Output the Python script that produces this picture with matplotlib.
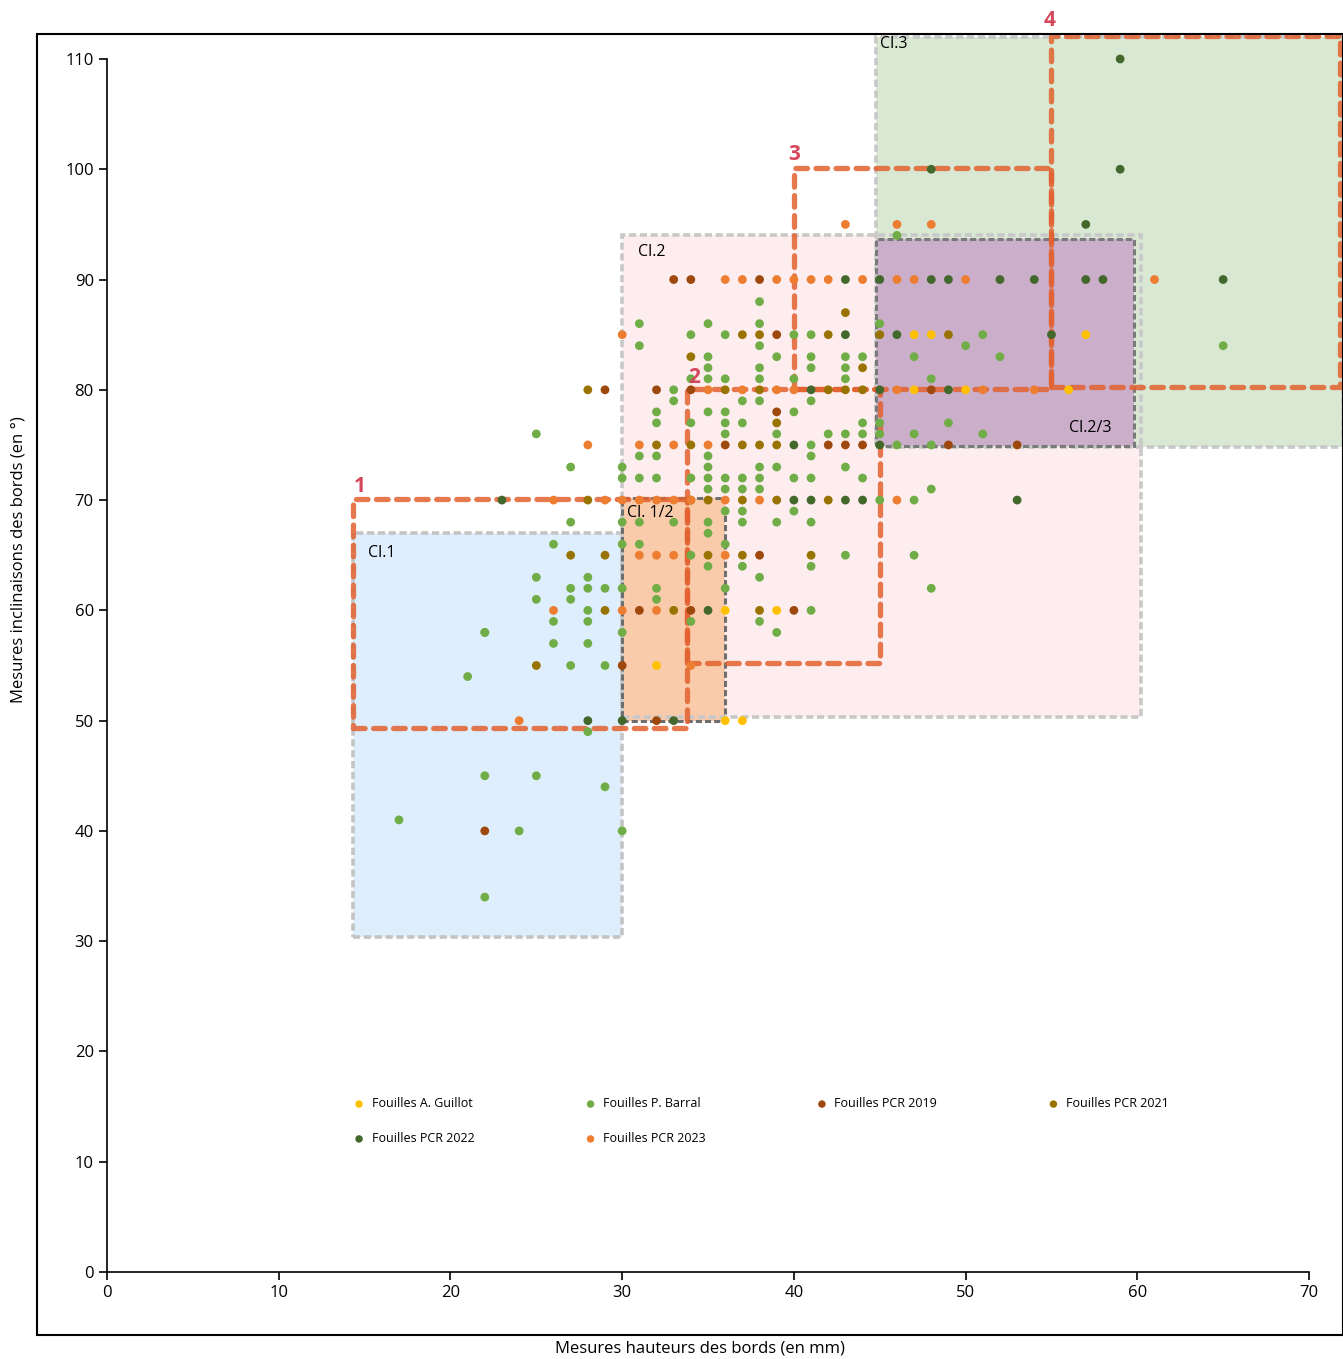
import matplotlib
matplotlib.use('Agg')
import matplotlib.pyplot as plt
from matplotlib.patches import Rectangle

plt.rcParams['font.family'] = ['Open Sans', 'DejaVu Sans']

# hauteur des bords (mm), inclinaison (°) par fouille
guillot_x = [36, 39, 32, 36, 37, 47, 48, 57, 47, 50, 56]
guillot_y = [60, 60, 55, 50, 50, 85, 85, 85, 80, 80, 80]

barral_x = [17, 21, 22, 22, 22, 24, 25, 28, 29, 30,
            27, 30, 31, 33, 35, 37, 39, 41, 35,
            26, 30, 31, 36, 34, 43, 47, 35, 37, 41, 25, 28, 38,
            27, 28, 29, 30, 32, 36, 48, 25, 27, 32, 28, 41,
            26, 28, 34, 38, 22, 30, 39, 26, 28, 27, 29,
            45, 47, 36, 37, 40, 35, 36, 37, 38, 48,
            30, 31, 32, 34, 35, 36, 37, 38, 40, 41, 44,
            27, 30, 35, 38, 39, 43, 31, 32, 35, 41, 41, 46, 48,
            25, 36, 39, 42, 43, 44, 45, 47, 51,
            32, 34, 36, 37, 44, 45, 49, 32, 35, 36, 40,
            33, 37, 38, 41, 33,
            34, 35, 36, 38, 40, 43, 48, 35, 38, 41, 43,
            35, 39, 41, 43, 44, 47, 52, 31, 38, 50, 65,
            34, 36, 40, 41, 51, 31, 35, 38, 45, 38, 46]
barral_y = [41, 54, 58, 45, 34, 40, 45, 49, 44, 40,
            68, 68, 68, 68, 68, 68, 68, 68, 67,
            66, 66, 66, 66, 65, 65, 65, 64, 64, 64, 63, 63, 63,
            62, 62, 62, 62, 62, 62, 62, 61, 61, 61, 60, 60,
            59, 59, 59, 59, 58, 58, 58, 57, 57, 55, 55,
            70, 70, 69, 69, 69, 71, 71, 71, 71, 71,
            72, 72, 72, 72, 72, 72, 72, 72, 72, 72, 72,
            73, 73, 73, 73, 73, 73, 74, 74, 74, 74, 75, 75, 75,
            76, 76, 76, 76, 76, 76, 76, 76, 76,
            77, 77, 77, 77, 77, 77, 77, 78, 78, 78, 78,
            79, 79, 79, 79, 80,
            81, 81, 81, 81, 81, 81, 81, 82, 82, 82, 82,
            83, 83, 83, 83, 83, 83, 83, 84, 84, 84, 84,
            85, 85, 85, 85, 85, 86, 86, 86, 86, 88, 94]

pcr2019_x = [22, 32, 31, 34, 40, 30, 38, 29, 32, 34, 48,
             36, 42, 43, 44, 49, 53, 39, 39, 33, 34, 38]
pcr2019_y = [40, 50, 60, 60, 60, 55, 65, 80, 80, 80, 80,
             75, 75, 75, 75, 75, 75, 78, 85, 90, 90, 90]

pcr2021_x = [25, 29, 33, 38, 27, 29, 35, 37, 41, 28, 34, 35, 37, 39, 42,
             32, 34, 37, 38, 39, 39, 28, 36, 38, 42, 43, 44, 44, 34,
             37, 38, 42, 45, 49, 43]
pcr2021_y = [55, 60, 60, 60, 65, 65, 65, 65, 65, 70, 70, 70, 70, 70, 70,
             75, 75, 75, 75, 75, 77, 80, 80, 80, 80, 80, 80, 82, 83,
             85, 85, 85, 85, 85, 87]

pcr2022_x = [28, 30, 33, 35, 23, 40, 41, 43, 44, 53, 40, 45, 41, 45, 49,
             43, 46, 55, 43, 45, 48, 49, 52, 54, 57, 58, 65, 57, 48, 59, 59]
pcr2022_y = [50, 50, 50, 60, 70, 70, 70, 70, 70, 70, 75, 75, 80, 80, 80,
             85, 85, 85, 90, 90, 90, 90, 90, 90, 90, 90, 90, 95, 100, 100, 110]

pcr2023_x = [24, 34, 26, 30, 32, 31, 32, 33, 36,
             26, 29, 30, 31, 32, 33, 34, 36, 38, 46,
             28, 31, 33, 35, 35, 37, 39, 40, 46, 51, 54, 30,
             36, 37, 39, 40, 41, 42, 44, 46, 47, 50, 61, 43, 46, 48]
pcr2023_y = [50, 55, 60, 60, 60, 65, 65, 65, 65,
             70, 70, 70, 70, 70, 70, 70, 70, 70, 70,
             75, 75, 75, 75, 80, 80, 80, 80, 80, 80, 80, 85,
             90, 90, 90, 90, 90, 90, 90, 90, 90, 90, 90, 95, 95, 95]

series = [
    ('Fouilles A. Guillot', guillot_x, guillot_y, '#FFC000'),
    ('Fouilles P. Barral', barral_x, barral_y, '#70AD47'),
    ('Fouilles PCR 2019', pcr2019_x, pcr2019_y, '#9E480E'),
    ('Fouilles PCR 2021', pcr2021_x, pcr2021_y, '#997300'),
    ('Fouilles PCR 2022', pcr2022_x, pcr2022_y, '#43682B'),
    ('Fouilles PCR 2023', pcr2023_x, pcr2023_y, '#ED7D31'),
]

# classes : (nom, x0, x1, y0, y1)
classes = [
    ('Cl.1', 14.3, 30.0, 30.4, 67.0),
    ('Cl.2', 30.0, 60.2, 50.3, 94.0),
    ('Cl.3', 44.8, 72.0, 74.8, 112.0),
    ('Cl. 1/2', 30.0, 36.0, 50.0, 70.2),
    ('Cl.2/3', 44.8, 59.8, 74.9, 93.7),
]
class_fill = ['#DEEEFC', '#FDEDEE', '#D9E8D3', '#F9CBAA', '#CBAEC9']
class_edge = ['#C4C4C4', '#C8C8C8', '#C8C8C8', '#6E6E6E', '#7A7A7A']
class_text = [(15.2, 65.2), (30.9, 92.5), (45.0, 111.4), (30.3, 68.8), (56.0, 76.5)]

# groupes numérotés : (num, x0, x1, y0, y1)
groupes = [
    ('1', 14.3, 33.8, 49.3, 70.1),
    ('2', 33.8, 45.0, 55.2, 80.1),
    ('3', 40.0, 55.0, 80.1, 100.1),
    ('4', 55.0, 71.8, 80.3, 112.1),
]
groupe_text = [(14.7, 71.2), (34.2, 81.1), (40.0, 101.3), (54.9, 113.5)]

fig = plt.figure(figsize=(13.43, 13.59), dpi=100)
ax = fig.add_axes([0.0797, 0.0640, 0.8950, 0.8926])

for i, (nom, x0, x1, y0, y1) in enumerate(classes):
    ax.add_patch(Rectangle((x0, y0), x1 - x0, y1 - y0, facecolor=class_fill[i],
                           edgecolor='none', zorder=1, clip_on=False))
for i, (nom, x0, x1, y0, y1) in enumerate(classes):
    lw = 2.6 if i < 3 else 2.2
    ax.add_patch(Rectangle((x0, y0), x1 - x0, y1 - y0, facecolor='none',
                           edgecolor=class_edge[i], lw=lw, linestyle=(0, (2, 1)),
                           zorder=2, clip_on=False))
    ax.text(class_text[i][0], class_text[i][1], nom, fontsize=11.5, va='center',
            ha='left', zorder=6)

for i, (num, x0, x1, y0, y1) in enumerate(groupes):
    ax.add_patch(Rectangle((x0, y0), x1 - x0, y1 - y0, facecolor='none',
                           edgecolor='#E2612F', alpha=0.85, lw=3.8,
                           linestyle=(0, (2.2, 1.6)), capstyle='round',
                           joinstyle='round', zorder=3, clip_on=False))
    ax.text(groupe_text[i][0], groupe_text[i][1], num, fontsize=15, fontweight='bold',
            color='#D5475A', ha='center', va='center', zorder=6, clip_on=False)

handles = []
for nom, xs, ys, c in series:
    h = ax.scatter(xs, ys, s=40, color=c, edgecolors='none', label=nom, zorder=5,
                   clip_on=False)
    handles.append(h)

# ordre des colonnes pour avoir la lecture par lignes
order = [0, 4, 1, 5, 2, 3]
leg = ax.legend([handles[i] for i in order], [series[i][0] for i in order],
                ncol=4, loc='upper left', bbox_to_anchor=(0.2055, 0.1440),
                frameon=False, fontsize=9, handlelength=0.8, handletextpad=0.6,
                columnspacing=8.9, labelspacing=1.75, borderpad=0, borderaxespad=0,
                scatterpoints=1, markerscale=0.85)

ax.set_xlim(0, 70)
ax.set_ylim(0, 110)
ax.set_xticks(range(0, 71, 10))
ax.set_yticks(range(0, 111, 10))
ax.spines['top'].set_visible(False)
ax.spines['right'].set_visible(False)
ax.spines['left'].set_linewidth(1.2)
ax.spines['bottom'].set_linewidth(1.2)
ax.tick_params(direction='out', length=6, width=1.2, labelsize=12)
ax.set_facecolor('none')

fig.text(0.521, 0.0074, 'Mesures hauteurs des bords (en mm)', ha='center',
         va='center', fontsize=12)
fig.text(0.0135, 0.588, 'Mesures inclinaisons des bords (en °)', ha='center',
         va='center', rotation=90, fontsize=12)

# cadre extérieur
fig.add_artist(Rectangle((37 / 1343, 1 - 1335 / 1359), (1343 - 37) / 1343,
                         (1335 - 34) / 1359, transform=fig.transFigure,
                         facecolor='none', edgecolor='black', lw=1.5, zorder=10))

fig.savefig('out.png', dpi=100)
